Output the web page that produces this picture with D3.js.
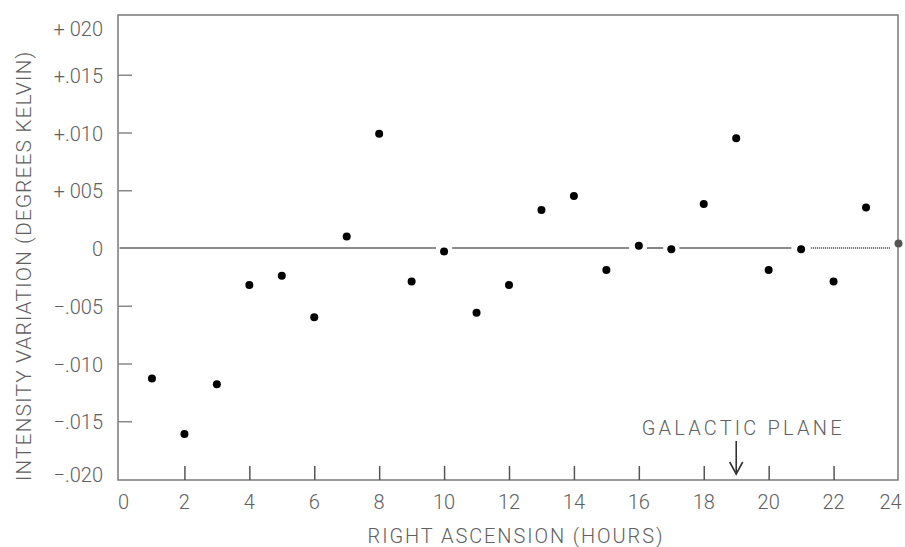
<!DOCTYPE html>
<html>
<head>
<meta charset="utf-8">
<script src="https://cdn.jsdelivr.net/npm/d3@7"></script>
<style>
  body { margin: 0; background: #fff; }
  text { font-family: Roboto, "Liberation Sans", sans-serif; font-weight: 300; fill: #606060; }
</style>
</head>
<body>
<div id="chart"></div>
<script>
// hours of right ascension, one reading per hour
const hours = [1, 2, 3, 4, 5, 6, 7, 8, 9, 10, 11, 12, 13, 14, 15, 16, 17, 18, 19, 20, 21, 22, 23, 24];
const intensity = [
    -0.0113, -0.0161, -0.0118, -0.0032, -0.0024, -0.0060, 0.0010, 0.0099,
    -0.0029, -0.0003, -0.0056, -0.0032, 0.0033, 0.0045, -0.0019, 0.0002,
    -0.0001, 0.0038, 0.0095, -0.0019, -0.0001, -0.0029, 0.0035, 0.0004,
];

const xTicks = [0, 2, 4, 6, 8, 10, 12, 14, 16, 18, 20, 22, 24];
const yTicks = [0.02, 0.015, 0.01, 0.005, 0, -0.005, -0.01, -0.015, -0.02];
const yTickLabels = ['+ 020', '+.015', '+.010', '+ 005', '0', '\u2212.005', '\u2212.010', '\u2212.015', '\u2212.020'];

// zero reference line, drawn in pieces between the dots (hours)
const zeroSegments = [[0, 9.75], [10.25, 15.7], [16.25, 16.75], [17.25, 20.7]];
const dottedSegments = [[21.3, 23.75]];

const galacticPlane = 19;

const width = 905, height = 547;
const svg = d3.select('#chart')
    .append('svg')
    .attr('width', width)
    .attr('height', height);

const x = d3.scaleLinear().domain([0, 24]).range([119.5, 898.5]);
const y = d3.scaleLinear().domain([-0.02, 0.02]).range([479, 17]);

// frame
svg.append('rect')
    .attr('x', 118)
    .attr('y', 15)
    .attr('width', 780)
    .attr('height', 465)
    .attr('fill', 'none')
    .attr('stroke', '#7a7a7a')
    .attr('stroke-width', 1.5);

// x ticks (inside, pointing up)
const xAxis = d3.axisTop(x)
    .tickValues(xTicks.filter((d) => d > 0 && d < 24))
    .tickSize(14)
    .tickFormat('');
svg.append('g')
    .attr('transform', 'translate(0,480)')
    .call(xAxis)
    .call((g) => g.select('.domain').remove())
    .call((g) => g.selectAll('line').attr('stroke', '#555').attr('stroke-width', 1.5));

svg.append('g')
    .selectAll('text')
    .data(xTicks)
    .join('text')
    .attr('x', (d) => x(d) + (d === 0 ? 4 : d === 24 ? -8 : 0))
    .attr('y', 509)
    .attr('text-anchor', 'middle')
    .style('font-size', '20px')
    .text((d) => d);

// y ticks (inside, pointing right)
const yAxis = d3.axisRight(y)
    .tickValues(yTicks.filter((d) => d !== 0.02 && d !== -0.02 && d !== 0))
    .tickSize(14)
    .tickFormat('');
svg.append('g')
    .attr('transform', 'translate(118,0)')
    .call(yAxis)
    .call((g) => g.select('.domain').remove())
    .call((g) => g.selectAll('line').attr('stroke', '#888').attr('stroke-width', 1.5));

svg.append('g')
    .selectAll('text')
    .data(yTicks)
    .join('text')
    .attr('x', 103)
    .attr('y', (d) => y(d) + (d === 0.02 ? 12 : d === -0.02 ? -4 : 1))
    .attr('dy', '0.35em')
    .attr('text-anchor', 'end')
    .style('font-size', '20px')
    .text((d, i) => yTickLabels[i]);

// zero line
svg.append('g')
    .selectAll('line')
    .data(zeroSegments)
    .join('line')
    .attr('x1', (d) => Math.max(x(d[0]), 118))
    .attr('x2', (d) => x(d[1]))
    .attr('y1', y(0))
    .attr('y2', y(0))
    .attr('stroke', '#666')
    .attr('stroke-width', 1.6);

svg.append('g')
    .selectAll('line')
    .data(dottedSegments)
    .join('line')
    .attr('x1', (d) => x(d[0]))
    .attr('x2', (d) => x(d[1]))
    .attr('y1', y(0))
    .attr('y2', y(0))
    .attr('stroke', '#333')
    .attr('stroke-width', 1.4)
    .attr('stroke-dasharray', '1,1');

// dots
svg.append('g')
    .selectAll('circle')
    .data(hours)
    .join('circle')
    .attr('cx', (d) => x(d))
    .attr('cy', (d, i) => y(intensity[i]))
    .attr('r', 4)
    .attr('fill', (d) => (d === 24 ? '#555' : '#000'));

// galactic plane marker
svg.append('text')
    .attr('x', x(galacticPlane) + 7)
    .attr('y', 435)
    .attr('text-anchor', 'middle')
    .style('font-size', '20px')
    .style('letter-spacing', '3.2px')
    .text('GALACTIC PLANE');

svg.append('line')
    .attr('x1', x(galacticPlane))
    .attr('x2', x(galacticPlane))
    .attr('y1', 441)
    .attr('y2', 474)
    .attr('stroke', '#333')
    .attr('stroke-width', 1.6);
svg.append('path')
    .attr('d', d3.line()([[x(galacticPlane) - 6.5, 462], [x(galacticPlane), 474], [x(galacticPlane) + 6.5, 462]]))
    .attr('fill', 'none')
    .attr('stroke', '#333')
    .attr('stroke-width', 1.6);

// axis titles
svg.append('text')
    .attr('x', 516)
    .attr('y', 543)
    .attr('text-anchor', 'middle')
    .style('font-size', '20px')
    .style('letter-spacing', '1.9px')
    .text('RIGHT ASCENSION (HOURS)');

svg.append('text')
    .attr('transform', 'translate(31,266) rotate(-90)')
    .attr('text-anchor', 'middle')
    .style('font-size', '21px')
    .style('letter-spacing', '1.05px')
    .text('INTENSITY VARIATION (DEGREES KELVIN)');
</script>
</body>
</html>
